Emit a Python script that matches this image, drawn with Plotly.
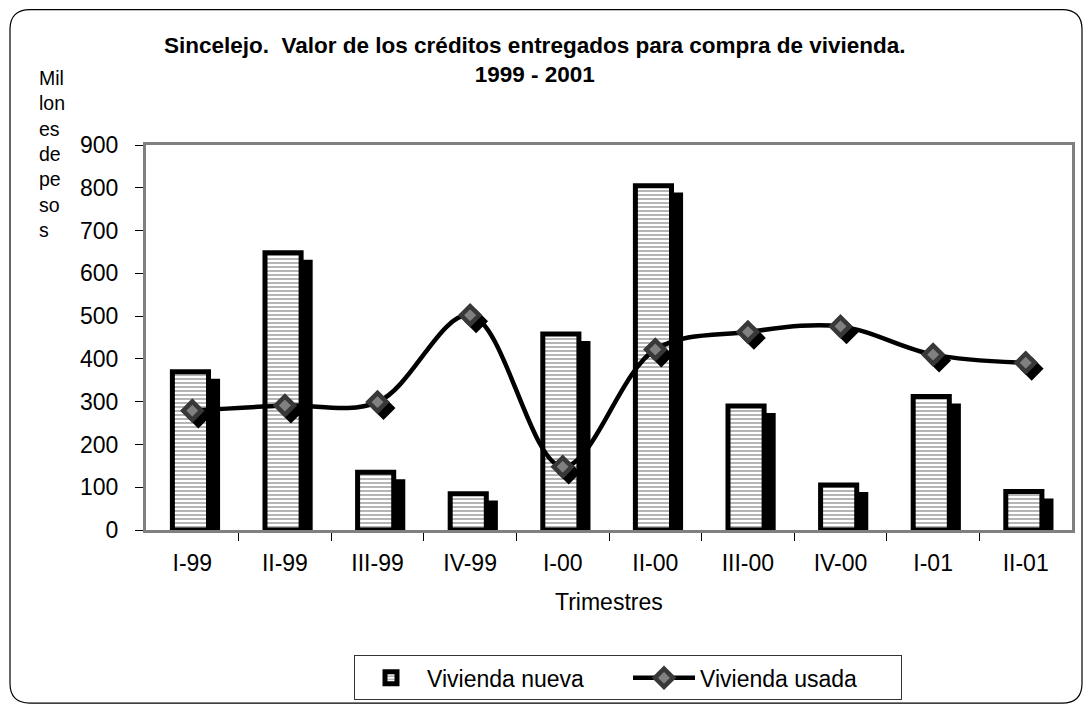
import plotly.graph_objects as go

# ---------------- data ----------------
categories = ["I-99", "II-99", "III-99", "IV-99", "I-00", "II-00", "III-00", "IV-00", "I-01", "II-01"]
vivienda_nueva = [370, 648, 135, 85, 458, 805, 290, 105, 312, 90]
vivienda_usada = [279, 291, 299, 502, 148, 422, 463, 476, 410, 391]
y_ticks = [0, 100, 200, 300, 400, 500, 600, 700, 800, 900]

# ---------------- layout geometry (reference pixel space) ----------------
BODY = 8                                   # page body margin offset
W, H = 1091 - BODY, 713 - BODY
L, R, T, B = 146, 1072, 145, 532          # plot area in reference pixels
PW, PH = R - L, B - T

def px(xp):
    return (xp - L) / PW

def py(yp):
    return (B - yp) / PH

x_idx = list(range(len(categories)))
unit_px = PW / len(categories)
yunit_px = PH / 900.0

shadow_dy = 7 / yunit_px
mshadow_dx = 6 / unit_px
mshadow_dy = 6 / yunit_px

fig = go.Figure()

# bar shadows
fig.add_trace(go.Bar(
    x=x_idx, y=vivienda_nueva, base=-shadow_dy, width=0.43, offset=-0.13,
    marker=dict(color="black", line=dict(width=0)), showlegend=False,
    hoverinfo="skip",
))
# main bars
fig.add_trace(go.Bar(
    x=x_idx, y=vivienda_nueva, width=0.39, offset=-0.215, name="Vivienda nueva",
    marker=dict(
        color="white",
        line=dict(color="black", width=5),
        pattern=dict(shape="-", fgcolor="#5a5a5a", bgcolor="white", size=4, solidity=0.45, fillmode="overlay"),
    ),
))
# marker shadows
fig.add_trace(go.Scatter(
    x=[v + mshadow_dx for v in x_idx], y=[v - mshadow_dy for v in vivienda_usada],
    mode="markers", showlegend=False, hoverinfo="skip",
    marker=dict(symbol="diamond", size=14, color="black", line=dict(color="black", width=4)),
))
# line
fig.add_trace(go.Scatter(
    x=x_idx, y=vivienda_usada, mode="lines+markers", name="Vivienda usada",
    line=dict(color="black", width=4.5, shape="spline", smoothing=1.0),
    marker=dict(symbol="diamond", size=14, color="#808080", line=dict(color="#383838", width=4.5)),
))

# outer rounded frame
fx0, fx1, fy0, fy1 = px(10), px(1082), py(706), py(9)
rx, ry = 20 / PW, 20 / PH
path = (f"M {fx0+rx},{fy1} L {fx1-rx},{fy1} Q {fx1},{fy1} {fx1},{fy1-ry} "
        f"L {fx1},{fy0+ry} Q {fx1},{fy0} {fx1-rx},{fy0} "
        f"L {fx0+rx},{fy0} Q {fx0},{fy0} {fx0},{fy0+ry} "
        f"L {fx0},{fy1-ry} Q {fx0},{fy1} {fx0+rx},{fy1} Z")

font_family = "Liberation Sans, Arial, sans-serif"

fig.update_layout(
    width=W, height=H,
    margin=dict(l=L - BODY, r=1091 - R, t=T - BODY, b=713 - B, pad=0),
    paper_bgcolor="white", plot_bgcolor="white",
    barmode="overlay",
    font=dict(family=font_family, size=23, color="black"),
    shapes=[dict(type="path", xref="paper", yref="paper", path=path,
                 line=dict(color="black", width=1.2), layer="below")],
    annotations=[
        dict(text="<b>Sincelejo.  Valor de los créditos entregados para compra de vivienda.</b><br><b>1999 - 2001</b>",
             x=px(535), y=py(30), xref="paper", yref="paper", xanchor="center", yanchor="top",
             showarrow=False, font=dict(size=22.5, family=font_family)),
        dict(text="Mil<br>lon<br>es<br>de<br>pe<br>so<br>s", x=px(37), y=py(65),
             xref="paper", yref="paper", xanchor="left", yanchor="top", align="left",
             showarrow=False, font=dict(size=19.5, family=font_family)),
        dict(text="Trimestres", x=0.5, y=py(604), xref="paper", yref="paper",
             xanchor="center", yanchor="middle", showarrow=False, font=dict(size=23)),
    ],
    legend=dict(orientation="h", x=px(628), xanchor="center", y=py(658), yanchor="top",
                bordercolor="#333333", borderwidth=1, bgcolor="white",
                font=dict(size=23), itemwidth=62, entrywidth=196, tracegroupgap=0),
    showlegend=True,
)

fig.update_xaxes(
    range=[-0.5, len(categories) - 0.5], tickmode="array", tickvals=x_idx, ticktext=categories,
    ticks="outside", ticklen=0, showgrid=False, zeroline=False,
    showline=True, linecolor="#808080", linewidth=3, mirror=True,
    ticklabelstandoff=10,
    minor=dict(tickmode="array", tickvals=[i - 0.5 for i in x_idx[1:]], ticks="outside",
               ticklen=8, tickcolor="black", tickwidth=1.2),
)
fig.update_yaxes(
    range=[0, 900], tickmode="array", tickvals=y_ticks, ticks="outside", ticklen=8,
    tickcolor="black", tickwidth=1.2, showgrid=False, zeroline=False,
    showline=True, linecolor="#808080", linewidth=3, mirror=True,
    ticklabelstandoff=12,
)

fig.write_html("out.html")
